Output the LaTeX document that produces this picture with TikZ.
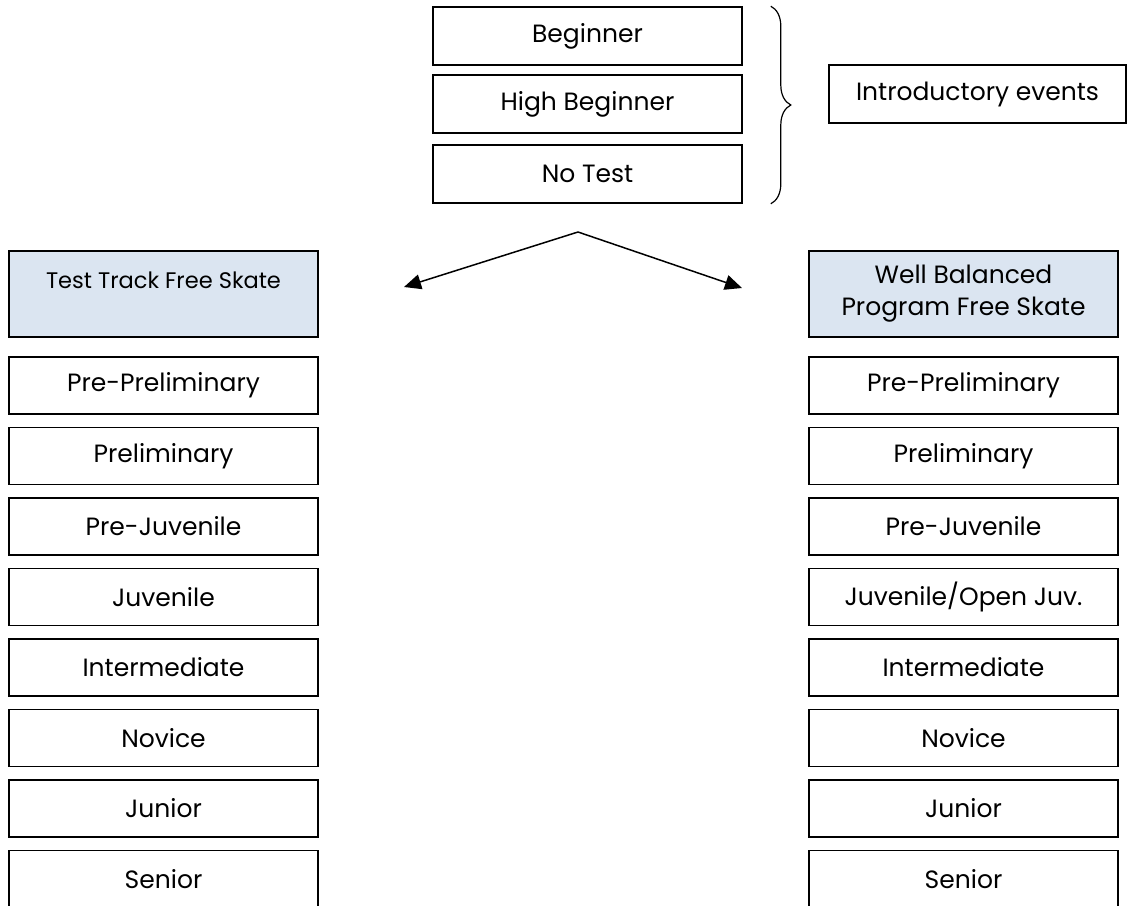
\documentclass[tikz,border=0pt]{standalone}
\usepackage{fontspec}
\setmainfont{Poppins}
\usetikzlibrary{decorations.pathreplacing,arrows.meta}
\definecolor{headblue}{HTML}{DBE5F1}
\tikzset{
  box/.style={draw=black, line width=1.6pt, fill=white, inner sep=0pt,
    minimum width=309pt, minimum height=57pt, font=\fontsize{25}{32}\selectfont,
    align=center},
  headbox/.style={box, fill=headblue, minimum height=86pt},
  connector/.style={line width=1.5pt, -{Triangle[length=17pt,width=15pt]}},
}
\begin{document}
\begin{tikzpicture}[x=1pt,y=-1pt]
\useasboundingbox (0,0) rectangle (1129,905);
% introductory group
\node[box, minimum height=58pt] (beg) at (587.5,36) {Beginner};
\node[box, minimum height=58pt] (hbeg) at (587.5,104) {High Beginner};
\node[box, minimum height=58pt] (notest) at (587.5,174) {No Test};
\path (beg.north east) ++(28,0) coordinate (brt);
\path (notest.south east) ++(28,0) coordinate (brb);
\draw[line width=1.2pt, decorate, decoration={brace, amplitude=20pt, aspect=0.5}]
  (brt) -- (brb);
\node[box, minimum width=297pt, minimum height=58pt] (intro) at (977.5,94) {Introductory events};
% split arrows
\coordinate (apex) at (578,232);
\coordinate (ltip) at (404,287);
\coordinate (rtip) at (742,288);
\draw[connector] (apex) -- (ltip);
\draw[connector] (apex) -- (rtip);
% heads
\node[headbox, font=\fontsize{22.5}{28}\selectfont, text height=37pt, text depth=49pt] (tt) at (163.5,294) {Test Track Free Skate};
\node[headbox] (wb) at (963.5,294) {Well Balanced\\Program Free Skate};
% columns
\foreach \t [count=\i from 0] in {Pre-Preliminary,Preliminary,Pre-Juvenile,Juvenile,Intermediate,Novice,Junior,Senior}{
  \node[box] (l\i) at (163.5,385.5+70.5*\i) {\t};
}
\foreach \t [count=\i from 0] in {Pre-Preliminary,Preliminary,Pre-Juvenile,Juvenile/Open Juv.,Intermediate,Novice,Junior,Senior}{
  \node[box] (r\i) at (963.5,385.5+70.5*\i) {\t};
}
\end{tikzpicture}
\end{document}
